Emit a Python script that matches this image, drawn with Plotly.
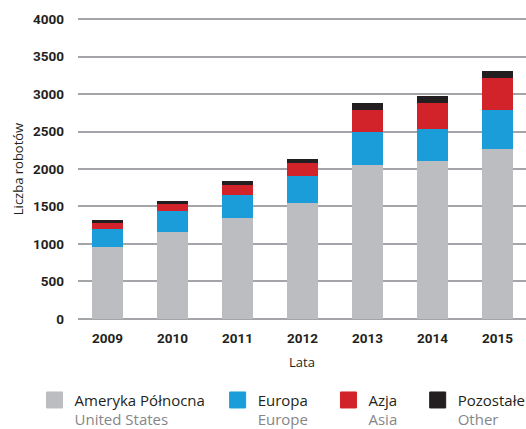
import plotly.graph_objects as go

years = ["2009", "2010", "2011", "2012", "2013", "2014", "2015"]
north_america = [965, 1160, 1348, 1548, 2055, 2109, 2269]
europe = [236, 280, 307, 365, 441, 427, 520]
asia = [80, 95, 133, 169, 293, 347, 432]
other = [40, 40, 54, 53, 94, 93, 89]

series_pl = ["Ameryka Północna", "Europa", "Azja", "Pozostałe"]
series_en = ["United States", "Europe", "Asia", "Other"]
colors = ["#bcbdc0", "#1a9dd9", "#d2232a", "#231f20"]
values = [north_america, europe, asia, other]
legend_pads = [2, 4, 4, 0]

fig = go.Figure()
for vals, col in zip(values, colors):
    fig.add_trace(go.Bar(x=years, y=vals, marker=dict(color=col, line=dict(width=0)),
                         showlegend=False, hoverinfo="x+y"))

for pl, en, col, npad in zip(series_pl, series_en, colors, legend_pads):
    pad = "&nbsp;" * npad
    fig.add_trace(go.Scatter(
        x=[None], y=[None], mode="markers",
        marker=dict(symbol="square", size=16, color=col, line=dict(width=1, color=col)),
        name=f"{pl}{pad}<br><span style='color:#848689'>{en}</span>",
        showlegend=True,
    ))

fig.update_layout(
    width=526, height=429,
    margin=dict(l=78, r=0, t=18, b=109, autoexpand=False),
    paper_bgcolor="white", plot_bgcolor="white",
    barmode="stack", bargap=0.52,
    font=dict(family="Open Sans", color="#231f20"),
    legend=dict(orientation="h", x=-0.097, xanchor="left", y=-0.211, yanchor="top",
                font=dict(family="Open Sans", size=15, color="#231f20"),
                valign="top", itemclick=False, tracegroupgap=0, traceorder="normal"),
    xaxis=dict(type="category", range=[-0.454, 6.438], showgrid=False, automargin=False,
               tickfont=dict(family="Roboto", size=13.5, color="#231f20", weight="bold"),
               ticks="", ticklabelstandoff=8,
               title=dict(text="Lata", font=dict(family="Open Sans", size=13, color="#231f20"), standoff=13)),
    yaxis=dict(range=[-15, 4015], tickvals=[0, 500, 1000, 1500, 2000, 2500, 3000, 3500, 4000],
               showgrid=True, gridcolor="#a4a5a8", gridwidth=1.6, automargin=False,
               zeroline=True, zerolinecolor="#a4a5a8", zerolinewidth=1.6,
               tickfont=dict(family="Roboto", size=13.5, color="#231f20", weight="bold"),
               ticks="", ticklabelstandoff=13,
               title=dict(text="Liczba robotów", font=dict(family="Open Sans", size=13, color="#231f20"), standoff=6)),
)

fig.write_html("out.html", config={"displayModeBar": False},
               post_script="document.body.style.margin='0';")
